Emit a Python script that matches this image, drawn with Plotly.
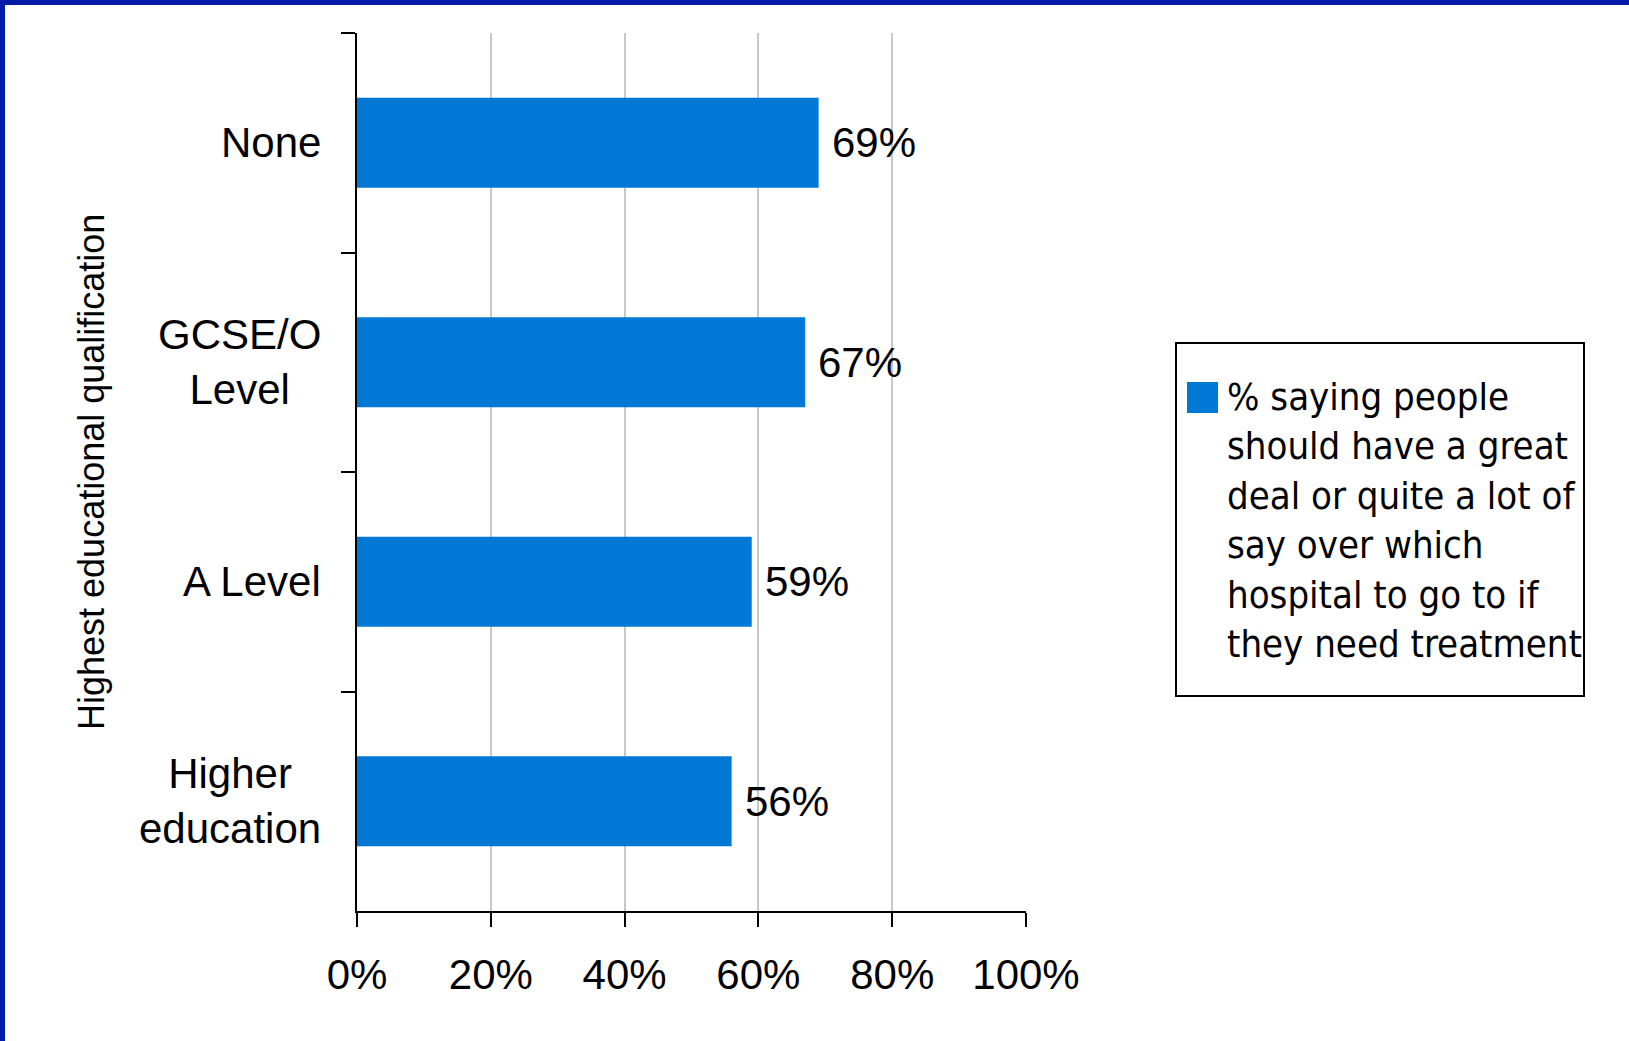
import plotly.graph_objects as go

categories = ["None", "GCSE/O<br>Level", "A Level", "Higher<br>education"]
values = [69, 67, 59, 56]
value_labels = ["69%", "67%", "59%", "56%"]
x_ticks = [0, 20, 40, 60, 80, 100]
x_tick_labels = ["0%", "20%", "40%", "60%", "80%", "100%"]
series_name = "% saying people<br>should have a great<br>deal or quite a lot of<br>say over which<br>hospital to go to if<br>they need treatment"
axis_title = "Highest educational qualification"

W, H = 1629, 1041
L, R, T, B = 357, 1026, 33, 911
PW, PH = R - L, B - T


def px(xp):
    return (xp - L) / PW


def py(yp):
    return (B - yp) / PH


BAR = "#0079d6"
TICKFONT = dict(family="Liberation Sans, Arial, sans-serif", size=42, color="black")

fig = go.Figure()
fig.add_trace(go.Bar(
    y=categories, x=values, orientation="h",
    marker=dict(color=BAR, line=dict(width=0)),
    name=series_name, showlegend=False, hoverinfo="x+y",
))

annotations = []
for c, v, lab in zip(categories, values, value_labels):
    annotations.append(dict(x=v, y=c, xref="x", yref="y", text=lab, showarrow=False,
                            xanchor="left", yanchor="middle", xshift=11, font=TICKFONT))
for c in categories:
    annotations.append(dict(x=0, y=c, xref="paper", yref="y", text=c, showarrow=False,
                            xanchor="right", yanchor="middle", align="center", xshift=-34,
                            font=TICKFONT))
annotations.append(dict(x=px(91), y=py(472), xref="paper", yref="paper", text=axis_title,
                        textangle=-90, showarrow=False, xanchor="center", yanchor="middle",
                        font=dict(family="Liberation Sans, Arial, sans-serif", size=36, color="black")))
annotations.append(dict(x=px(1225), y=py(520), xref="paper", yref="paper", text=series_name,
                        showarrow=False, xanchor="left", yanchor="middle", align="left",
                        font=dict(family="DejaVu Sans Condensed, DejaVu Sans, sans-serif", size=38, color="black")))

shapes = [
    # legend box
    dict(type="rect", xref="paper", yref="paper", x0=px(1176), x1=px(1584), y0=py(343), y1=py(696),
         line=dict(color="black", width=2), fillcolor="white"),
    # legend swatch
    dict(type="rect", xref="paper", yref="paper", x0=px(1187), x1=px(1218), y0=py(382), y1=py(413),
         line=dict(width=0), fillcolor=BAR),
    # blue frame top and left
    dict(type="rect", xref="paper", yref="paper", x0=px(0), x1=px(W), y0=py(0), y1=py(5),
         line=dict(width=0), fillcolor="#041ba8"),
    dict(type="rect", xref="paper", yref="paper", x0=px(0), x1=px(5), y0=py(0), y1=py(H),
         line=dict(width=0), fillcolor="#041ba8"),
]

fig.update_layout(
    width=W, height=H,
    margin=dict(l=L, r=W - R, t=T, b=H - B, pad=0),
    paper_bgcolor="white", plot_bgcolor="white",
    bargap=0.59,
    showlegend=False,
    annotations=annotations,
    shapes=shapes,
    xaxis=dict(range=[0, 100], tickvals=x_ticks, ticktext=x_tick_labels,
               showgrid=True, gridcolor="#c8c8c8", gridwidth=2,
               showline=True, linecolor="black", linewidth=2,
               ticks="outside", ticklen=14, tickwidth=2, tickcolor="black",
               tickfont=TICKFONT, zeroline=False, ticklabelstandoff=12, fixedrange=True),
    yaxis=dict(type="category", categoryorder="array", categoryarray=categories,
               autorange="reversed", showgrid=False,
               showline=True, linecolor="black", linewidth=2,
               ticks="outside", tickson="boundaries", ticklen=14, tickwidth=2, tickcolor="black",
               showticklabels=False, zeroline=False, fixedrange=True),
)

fig.write_html("out.html", config={"displayModeBar": False},
               post_script="document.body.style.margin='0';document.body.style.overflow='hidden';")
